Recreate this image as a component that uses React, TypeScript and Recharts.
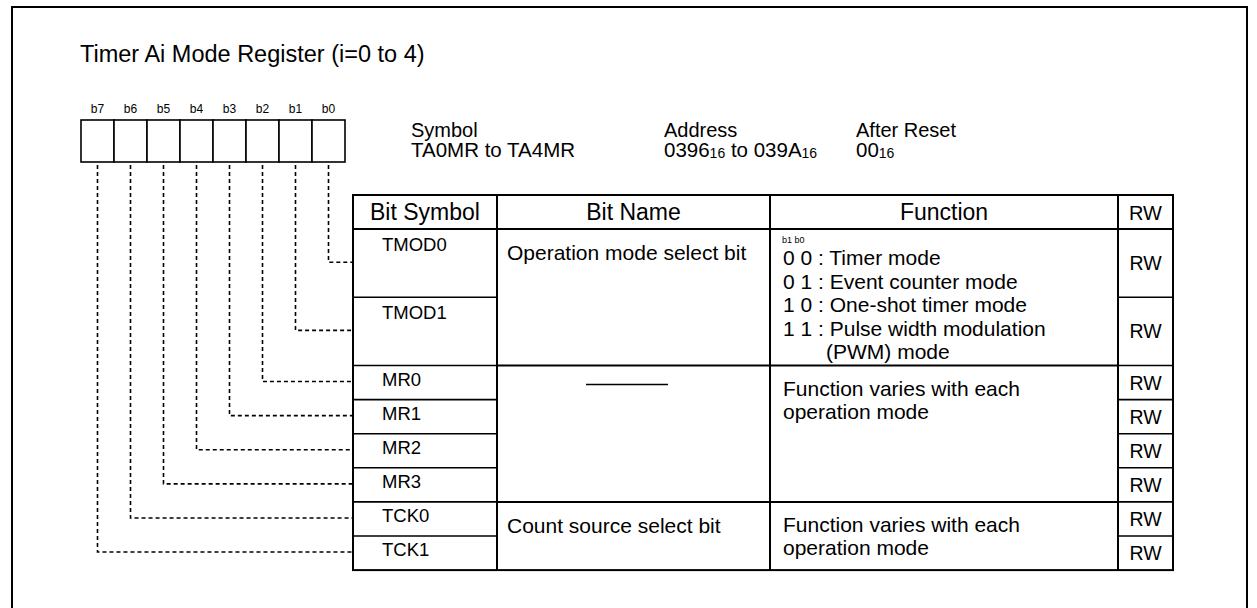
import { ComposedChart, Bar, XAxis, YAxis, LabelList, Customized } from "recharts";

// register bits, left to right as drawn
const bitLabels = ["b7", "b6", "b5", "b4", "b3", "b2", "b1", "b0"];
// table rows, b0 first
const bitSymbols = ["TMOD0", "TMOD1", "MR0", "MR1", "MR2", "MR3", "TCK0", "TCK1"];
const symbolSlots = [2, 2, 1, 1, 1, 1, 1, 1];
const accessModes = ["RW", "RW", "RW", "RW", "RW", "RW", "RW", "RW"];

const groupSizes = [2, 4, 2];
const groupNames = ["Operation mode select bit", "", "Count source select bit"];
const groupFunctions = [
    ["0 0 : Timer mode", "0 1 : Event counter mode", "1 0 : One-shot timer mode", "1 1 : Pulse width modulation", "(PWM) mode"],
    ["Function varies with each", "operation mode"],
    ["Function varies with each", "operation mode"],
];
const headerLabels = ["Bit Symbol", "Bit Name", "Function", "RW"];

const titleText = "Timer Ai Mode Register (i=0 to 4)";
const infoLabels = ["Symbol", "Address", "After Reset"];
const infoValues: [string, boolean][][] = [
    [["TA0MR to TA4MR", false]],
    [["0396", false], ["16", true], [" to 039A", false], ["16", true]],
    [["00", false], ["16", true]],
];

const W = 1257;
const H = 608;
const FONT = '"Liberation Sans", Arial, Helvetica, sans-serif';
const BOX = { left: 81, right: 345, top: 120, bottom: 162 };
const COLS = [353, 497, 770, 1118, 1173];
const TABLE_TOP = 195;
const SLOT = 34.1;
const INFO_X = [411, 664, 856];

const bitData = bitLabels.map((bit) => ({ bit, cell: 1 }));

function rowTop(bitNo: number) {
    let s = 1;
    for (let i = 0; i < bitNo; i++) s += symbolSlots[i];
    return TABLE_TOP + s * SLOT;
}
function rowBottom(bitNo: number) {
    return rowTop(bitNo) + symbolSlots[bitNo] * SLOT;
}

function BitCell(props: any) {
    const { x, y, width, height, index } = props;
    const bitNo = bitLabels.length - 1 - index;
    const cx = x + width / 2;
    const ty = (rowTop(bitNo) + rowBottom(bitNo)) / 2 - 1;
    return (
        <g>
            <rect x={x} y={y} width={width} height={height} fill="#fff" stroke="#000" strokeWidth={1.6} />
            <path
                d={`M${cx},${y + height + 3} L${cx},${ty} L${COLS[0]},${ty}`}
                fill="none"
                stroke="#000"
                strokeWidth={1.6}
                strokeDasharray="4 3"
            />
        </g>
    );
}

function TableLayer() {
    const last = bitSymbols.length - 1;
    const bottom = rowBottom(last);
    const groupStarts: number[] = [];
    let acc = 0;
    groupSizes.forEach((n) => {
        groupStarts.push(acc);
        acc += n;
    });

    return (
        <g fontFamily={FONT} fill="#000">
            {/* page frame */}
            <rect x={12} y={7} width={1235} height={700} fill="none" stroke="#000" strokeWidth={2} />

            <text x={80} y={62} fontSize={23.5}>{titleText}</text>

            {infoLabels.map((lab, i) => (
                <g key={lab}>
                    <text x={INFO_X[i]} y={137} fontSize={20}>{lab}</text>
                    <text x={INFO_X[i]} y={157} fontSize={20.5}>
                        {infoValues[i].map(([t, sub], j) => (
                            <tspan key={j} fontSize={sub ? 14 : 20.5} dy={sub ? 1 : j > 0 ? -1 : 0}>{t}</tspan>
                        ))}
                    </text>
                </g>
            ))}

            {/* table frame and columns */}
            <rect x={COLS[0]} y={TABLE_TOP} width={COLS[4] - COLS[0]} height={bottom - TABLE_TOP} fill="none" stroke="#000" strokeWidth={2} />
            {COLS.slice(1, 4).map((cx) => (
                <line key={cx} x1={cx} x2={cx} y1={TABLE_TOP} y2={bottom} stroke="#000" strokeWidth={2} />
            ))}
            <line x1={COLS[0]} x2={COLS[4]} y1={TABLE_TOP + SLOT} y2={TABLE_TOP + SLOT} stroke="#000" strokeWidth={2} />

            {headerLabels.map((h, i) => (
                <text key={h} x={(COLS[i] + COLS[i + 1]) / 2} y={220} fontSize={i === 3 ? 20 : 23} textAnchor="middle">{h}</text>
            ))}

            {/* bit rows */}
            {bitSymbols.map((s, b) => {
                const top = rowTop(b);
                const bot = rowBottom(b);
                return (
                    <g key={s}>
                        {b < last && (
                            <>
                                <line x1={COLS[0]} x2={COLS[1]} y1={bot} y2={bot} stroke="#000" strokeWidth={1.6} />
                                <line x1={COLS[3]} x2={COLS[4]} y1={bot} y2={bot} stroke="#000" strokeWidth={1.6} />
                            </>
                        )}
                        <text x={382} y={top + (symbolSlots[b] > 1 ? 22 : 20)} fontSize={18.5}>{s}</text>
                        <text x={(COLS[3] + COLS[4]) / 2} y={(top + bot) / 2 + 7} fontSize={19.5} textAnchor="middle">{accessModes[b]}</text>
                    </g>
                );
            })}

            {/* bit name / function groups */}
            {groupSizes.map((n, g) => {
                const first = groupStarts[g];
                const top = rowTop(first);
                const bot = rowBottom(first + n - 1);
                const hasCodes = g === 0;
                const fnTop = top + (hasCodes ? 36 : 30);
                return (
                    <g key={g}>
                        {first + n - 1 < last && (
                            <line x1={COLS[1]} x2={COLS[3]} y1={bot} y2={bot} stroke="#000" strokeWidth={2} />
                        )}
                        {groupNames[g] ? (
                            <text x={507} y={top + 31} fontSize={21}>{groupNames[g]}</text>
                        ) : (
                            <line x1={586} x2={668} y1={top + 19} y2={top + 19} stroke="#000" strokeWidth={1.6} />
                        )}
                        {hasCodes && <text x={782} y={top + 14} fontSize={9}>b1 b0</text>}
                        {groupFunctions[g].map((ln, k) => (
                            <text key={k} x={ln.startsWith("(") ? 826 : 783} y={fnTop + k * 23.5} fontSize={21}>{ln}</text>
                        ))}
                    </g>
                );
            })}
        </g>
    );
}

export default function App() {
    return (
        <div style={{ position: "absolute", left: 0, top: 0, width: W, height: H, background: "#fff", overflow: "hidden" }}>
            <ComposedChart
                width={W}
                height={H}
                data={bitData}
                margin={{ top: BOX.top, left: BOX.left, right: W - BOX.right, bottom: H - BOX.bottom }}
                barCategoryGap={0}
                barGap={0}
                style={{ fontFamily: FONT }}
            >
                <XAxis dataKey="bit" type="category" hide />
                <YAxis type="number" domain={[0, 1]} hide />
                <Customized component={TableLayer} />
                <Bar dataKey="cell" shape={BitCell} isAnimationActive={false}>
                    <LabelList dataKey="bit" position="top" offset={7} fontSize={12} fill="#000" fontFamily={FONT} />
                </Bar>
            </ComposedChart>
        </div>
    );
}
